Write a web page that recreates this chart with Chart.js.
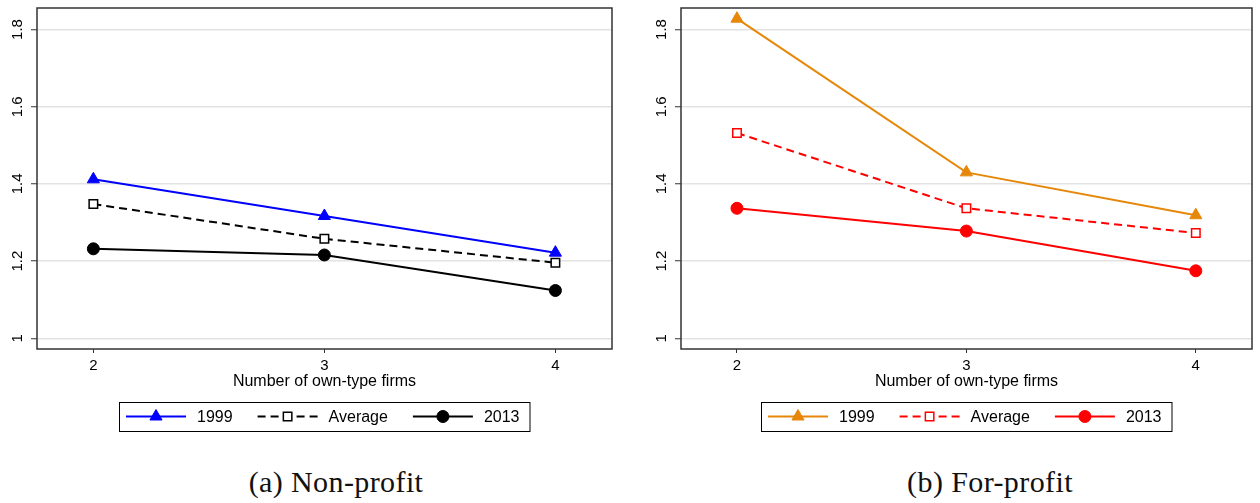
<!DOCTYPE html>
<html>
<head>
<meta charset="utf-8">
<script src="https://cdn.jsdelivr.net/npm/chart.js@4.4.1/dist/chart.umd.min.js"></script>
<style>
  body { margin: 0; background: #fff; width: 1260px; height: 503px; position: relative; overflow: hidden; }
  .panel { position: absolute; top: 0; height: 445px; }
  #panel-np { left: 0; width: 630px; }
  #panel-fp { left: 644px; width: 616px; }
  .caption { position: absolute; top: 465px; font-family: "Liberation Serif", "DejaVu Serif", serif; font-size: 30px; letter-spacing: 0.4px; color: #111; transform: translateX(-50%); white-space: nowrap; }
</style>
</head>
<body>
<div class="panel" id="panel-np"><canvas id="npChart"></canvas></div>
<div class="panel" id="panel-fp"><canvas id="fpChart"></canvas></div>
<div class="caption" style="left:336px">(a) Non-profit</div>
<div class="caption" style="left:990px">(b) For-profit</div>

<script>
// x: number of own-type firms in the market
const firms  = [2, 3, 4];
const yTicks = [1, 1.2, 1.4, 1.6, 1.8];
const seriesLabels = ['1999', 'Average', '2013'];

// Non-profit
const np1999 = [1.412, 1.317, 1.222];
const npAvg  = [1.348, 1.258, 1.196];
const np2013 = [1.232, 1.216, 1.124];

// For-profit
const fp1999 = [1.828, 1.430, 1.319];
const fpAvg  = [1.532, 1.337, 1.273];
const fp2013 = [1.337, 1.278, 1.175];

const FONT = '"Liberation Sans", Arial, sans-serif';
const LABEL_SIZE = 16;

const toPoints = vals => firms.map((x, i) => ({ x, y: vals[i] }));

function makeDatasets(vals, colors) {
  const [c99, cAvg, c13] = colors;
  return [
    {
      label: seriesLabels[0], data: toPoints(vals[0]),
      borderColor: c99, backgroundColor: c99, borderWidth: 2,
      pointStyle: 'triangle', pointRadius: 7, pointBorderWidth: 1, pointBackgroundColor: c99, pointBorderColor: c99,
    },
    {
      label: seriesLabels[1], data: toPoints(vals[1]),
      borderColor: cAvg, backgroundColor: '#fff', borderWidth: 2, borderDash: [8, 5],
      pointStyle: 'rect', pointRadius: 6, pointBorderWidth: 1.5, pointBackgroundColor: '#fff', pointBorderColor: cAvg,
    },
    {
      label: seriesLabels[2], data: toPoints(vals[2]),
      borderColor: c13, backgroundColor: c13, borderWidth: 2,
      pointStyle: 'circle', pointRadius: 6, pointBorderWidth: 1, pointBackgroundColor: c13, pointBorderColor: c13,
    },
  ].map(d => ({ ...d, tension: 0, clip: false, fill: false }));
}

// frame around the plot region
const framePlugin = {
  id: 'frame',
  beforeDatasetsDraw(chart) {
    const { ctx, chartArea: a } = chart;
    ctx.save();
    ctx.strokeStyle = '#333';
    ctx.lineWidth = 1.5;
    ctx.strokeRect(a.left, a.top, a.right - a.left, a.bottom - a.top);
    ctx.restore();
  },
};

// vertical tick labels on the y axis (read bottom to top)
const yLabelPlugin = {
  id: 'yLabels',
  afterDraw(chart) {
    const { ctx } = chart;
    const ys = chart.scales.y;
    ctx.save();
    ctx.fillStyle = '#000';
    ctx.font = `15px ${FONT}`;
    ctx.textAlign = 'center';
    ctx.textBaseline = 'middle';
    ys.ticks.forEach(t => {
      const py = ys.getPixelForValue(t.value);
      ctx.save();
      ctx.translate(18, py);
      ctx.rotate(-Math.PI / 2);
      ctx.fillText(String(t.value), 0, 0);
      ctx.restore();
    });
    ctx.restore();
  },
};

// boxed legend under the axis title: line + marker + label
const boxLegendPlugin = {
  id: 'boxLegend',
  afterDraw(chart) {
    const { ctx, chartArea: a } = chart;
    const sets = chart.data.datasets;
    const symW = 60, textGap = 11, itemGap = 25, padL = 7, padR = 10;
    const boxTop = 402, boxH = 29, cy = boxTop + boxH / 2;
    ctx.save();
    ctx.font = `${LABEL_SIZE}px ${FONT}`;
    const widths = sets.map(d => symW + textGap + ctx.measureText(d.label).width);
    const total = padL + padR + widths.reduce((s, w) => s + w, 0) + itemGap * (sets.length - 1);
    const boxLeft = Math.round((a.left + a.right) / 2 - total / 2);

    ctx.fillStyle = '#fff';
    ctx.fillRect(boxLeft, boxTop, total, boxH);
    ctx.strokeStyle = '#000';
    ctx.lineWidth = 1;
    ctx.strokeRect(boxLeft + 0.5, boxTop + 0.5, total, boxH);

    let x = boxLeft + padL;
    sets.forEach((d, i) => {
      ctx.strokeStyle = d.borderColor;
      ctx.lineWidth = d.borderWidth;
      ctx.setLineDash(d.borderDash || []);
      ctx.beginPath();
      ctx.moveTo(x, cy);
      ctx.lineTo(x + symW, cy);
      ctx.stroke();
      ctx.setLineDash([]);

      ctx.fillStyle = d.pointBackgroundColor;
      ctx.strokeStyle = d.pointBorderColor;
      ctx.lineWidth = d.pointBorderWidth;
      Chart.helpers.drawPoint(ctx, {
        pointStyle: d.pointStyle, radius: d.pointRadius, borderWidth: d.pointBorderWidth, rotation: 0,
      }, x + symW / 2, cy);

      ctx.fillStyle = '#000';
      ctx.textAlign = 'left';
      ctx.textBaseline = 'middle';
      ctx.fillText(d.label, x + symW + textGap, cy + 1);
      x += widths[i] + itemGap;
    });
    ctx.restore();
  },
};

function makeChart(id, datasets, padRight) {
  return new Chart(document.getElementById(id), {
    type: 'line',
    data: { datasets },
    plugins: [framePlugin, yLabelPlugin, boxLegendPlugin],
    options: {
      responsive: true, maintainAspectRatio: false, animation: false,
      layout: { padding: { left: 0, right: padRight, top: 5, bottom: 54 } },
      plugins: { legend: { display: false }, tooltip: { enabled: false } },
      scales: {
        x: {
          type: 'linear', min: 1.756, max: 4.245,
          afterBuildTicks: s => { s.ticks = firms.map(v => ({ value: v })); },
          afterFit: s => { s.height = 42; },
          grid: { drawOnChartArea: false, drawTicks: true, tickLength: 4, tickColor: '#333', tickWidth: 1 },
          border: { display: false },
          ticks: { color: '#000', font: { family: FONT, size: 15 }, padding: 4, maxRotation: 0 },
          title: { display: true, text: 'Number of own-type firms', color: '#000', font: { family: FONT, size: LABEL_SIZE }, padding: 0 },
        },
        y: {
          min: 0.9725, max: 1.8557,
          afterBuildTicks: s => { s.ticks = yTicks.map(v => ({ value: v })); },
          afterFit: s => { s.width = 37; },
          grid: { color: '#e3e3e3', lineWidth: 1.5, drawTicks: true, tickLength: 6, tickColor: '#333', tickWidth: 1 },
          border: { display: false },
          ticks: { display: false },
        },
      },
    },
  });
}

makeChart('npChart', makeDatasets([np1999, npAvg, np2013], ['#0000ff', '#000000', '#000000']), 18);
makeChart('fpChart', makeDatasets([fp1999, fpAvg, fp2013], ['#e6870a', '#ff0000', '#ff0000']), 5);
</script>
</body>
</html>
